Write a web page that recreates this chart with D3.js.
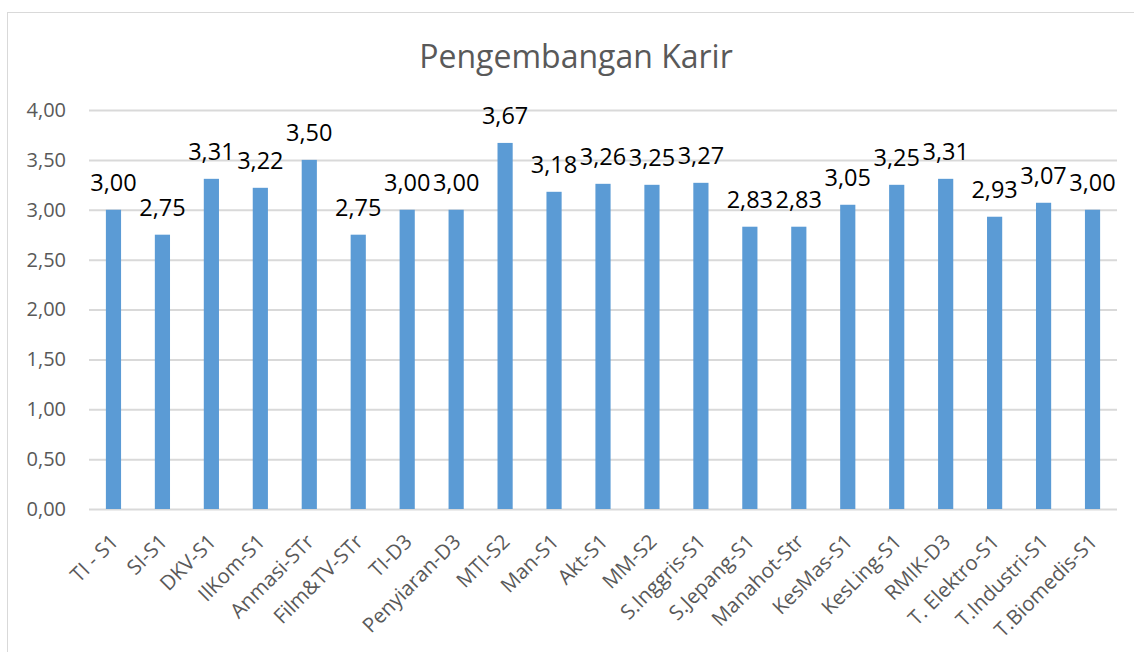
<!DOCTYPE html>
<html>
<head>
<script type="text/javascript" src="https://d3js.org/d3.v7.min.js"></script>
<title>Pengembangan Karir</title>
<style>
  body { margin:0; background:#fff; }
  text { font-family:"Open Sans", sans-serif; }
</style>
</head>
<body>
<div id="chart"></div>
<script type="text/javascript">
(function(){

  var prodi = ["TI - S1","SI-S1","DKV-S1","IlKom-S1","Anmasi-STr","Film&TV-STr","TI-D3",
               "Penyiaran-D3","MTI-S2","Man-S1","Akt-S1","MM-S2","S.Inggris-S1","S.Jepang-S1",
               "Manahot-Str","KesMas-S1","KesLing-S1","RMIK-D3","T. Elektro-S1","T.Industri-S1",
               "T.Biomedis-S1"];
  var nilai = [3.00,2.75,3.31,3.22,3.50,2.75,3.00,3.00,3.67,3.18,3.26,3.25,3.27,2.83,2.83,
               3.05,3.25,3.31,2.93,3.07,3.00];
  var yTicks = [0,0.5,1,1.5,2,2.5,3,3.5,4];

  var w = 1134, h = 652;
  var left = 89, right = 1117, top = 110, bottom = 509;

  var fmt = function(v) { return v.toFixed(2).replace(".", ","); };

  var svg = d3.select("#chart").append("svg")
      .attr("width", w).attr("height", h);

  svg.append("rect")
     .attr("x", 7.5).attr("y", 12.5)
     .attr("width", w).attr("height", h)
     .attr("fill", "#fff").attr("stroke", "#d9d9d9");

  svg.append("text")
     .attr("x", 576).attr("y", 68)
     .attr("text-anchor", "middle")
     .attr("fill", "#595959")
     .style("font-size", "32px")
     .text("Pengembangan Karir");

  var x = d3.scaleBand().domain(prodi).range([left, right]).paddingInner(0.69).paddingOuter(0.345);
  var y = d3.scaleLinear().domain([0, 4]).range([bottom, top]);

  // gridlines + y labels
  var yAxis = svg.append("g")
     .attr("transform", "translate(" + left + ",0)")
     .call(d3.axisLeft(y).tickValues(yTicks).tickFormat(fmt).tickSize(-(right-left)).tickPadding(23));
  yAxis.select(".domain").remove();
  yAxis.selectAll("line").attr("stroke", "#d9d9d9").attr("stroke-width", 2);
  yAxis.selectAll("text").attr("fill", "#595959").style("font-size", "20px")
       .style("font-family", "'Open Sans', sans-serif");

  svg.selectAll("rect.bar")
     .data(nilai)
     .enter()
       .append("rect")
       .attr("class", "bar")
       .attr("x", function(d, i) { return x(prodi[i]); })
       .attr("width", x.bandwidth())
       .attr("y", function(d) { return y(d); })
       .attr("height", function(d) { return bottom - y(d); })
       .attr("fill", "#5b9bd5");

  svg.selectAll("text.lbl")
     .data(nilai)
     .enter()
       .append("text")
       .attr("class", "lbl")
       .attr("x", function(d, i) { return x(prodi[i]) + x.bandwidth()/2; })
       .attr("y", function(d) { return y(d) - 19; })
       .attr("text-anchor", "middle")
       .attr("fill", "#000")
       .style("font-size", "23.5px")
       .text(fmt);

  // x axis labels, rotated
  var xAxis = svg.append("g")
     .attr("transform", "translate(0," + bottom + ")")
     .call(d3.axisBottom(x).tickSize(0).tickPadding(0));
  xAxis.select(".domain").remove();
  xAxis.selectAll("text")
     .attr("fill", "#595959")
     .style("font-size", "20.5px")
     .style("font-family", "'Open Sans', sans-serif")
     .attr("text-anchor", "end")
     .attr("dy", null)
     .attr("y", null)
     .attr("transform", "translate(6,34) rotate(-45)");

})();
</script>
</body></html>
